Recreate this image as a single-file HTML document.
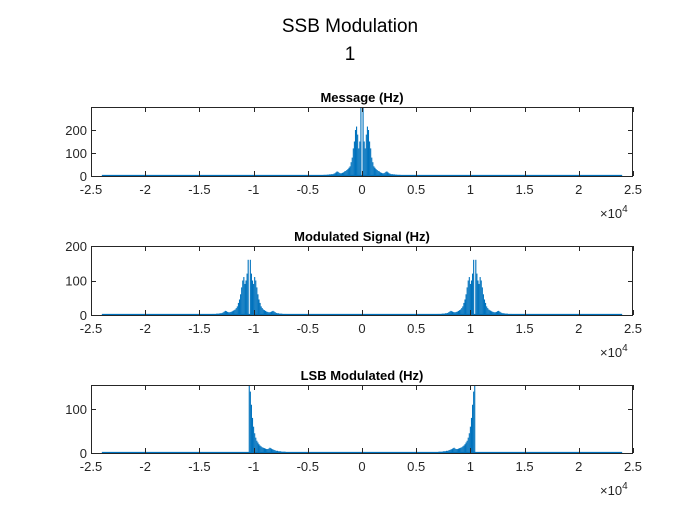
<!DOCTYPE html>
<html><head><meta charset="utf-8"><style>
body{margin:0;background:#fff;}
svg{display:block;font-family:"Liberation Sans",Arial,sans-serif;}
</style></head><body>
<svg id="fig" width="700" height="525" viewBox="0 0 700 525" xmlns="http://www.w3.org/2000/svg">
<rect width="700" height="525" fill="#fff"/>
<text x="350" y="32" font-size="19" text-anchor="middle" fill="#000">SSB Modulation</text>
<text x="350" y="60" font-size="19" text-anchor="middle" fill="#000">1</text>
</svg>
<script>
const binHz = 100;
const xTicks = [-25000,-20000,-15000,-10000,-5000,0,5000,10000,15000,20000,25000];
const xTickLabels = ["-2.5","-2","-1.5","-1","-0.5","0","0.5","1","1.5","2","2.5"];
const fMin = -24000, fMax = 24000;
const msgMag = [0,300,150,120,180,215,200,150,120,80,60,42,36,30,26,22,20,16,14,12,12,14,18,20,16,12,10,8,8,7,7,6,6,5,5,5,4,4,4,3,3,3,3,2,2,2,2,1,1,1,1,1,0,0,0];
const carrierHz = 10400;
const modMag = [0,160,120,100,90,110,100,80,60,45,35,25,20,16,14,12,10,9,8,8,9,11,12,10,8,6,5,5,4,4,4,3,3,3,3,2,2,2,2,1,1,1,1,1,0,0];
const lsbMag = [155,140,110,80,60,45,35,28,24,20,17,15,13,12,11,10,9,9,10,12,11,9,8,7,6,5,5,4,4,4,3,3,3,3,2,2,2,2,1,1,1,1,0,0];
const plots = [
 {name:"message",title:"Message (Hz)",top:107,bottom:176,yMax:300,yTicks:[0,100,200],yLabels:["0","100","200"]},
 {name:"modulated",title:"Modulated Signal (Hz)",top:246,bottom:315,yMax:200,yTicks:[0,100,200],yLabels:["0","100","200"]},
 {name:"lsb",title:"LSB Modulated (Hz)",top:385,bottom:453,yMax:155,yTicks:[0,100],yLabels:["0","100"]}
];
const L=91,R=633,NS="http://www.w3.org/2000/svg",svg=document.getElementById('fig');
function xs(f){return L+(f-xTicks[0])/(xTicks[xTicks.length-1]-xTicks[0])*(R-L);}
function mk(tag,attrs,parent){const e=document.createElementNS(NS,tag);for(const k in attrs)e.setAttribute(k,attrs[k]);(parent||svg).appendChild(e);return e;}
function seriesFor(i){
 const pts=[];
 if(i===0){msgMag.forEach((v,k)=>{pts.push([k*binHz,v]);if(k)pts.push([-k*binHz,v]);});}
 if(i===1){modMag.forEach((v,k)=>{[carrierHz,-carrierHz].forEach(c=>{pts.push([c+k*binHz,v]);if(k)pts.push([c-k*binHz,v]);});});}
 if(i===2){lsbMag.forEach((v,k)=>{pts.push([carrierHz-k*binHz,v]);pts.push([-carrierHz+k*binHz,v]);});}
 return pts;
}
plots.forEach((p,i)=>{
 const g=mk('g',{});
 
 
 const ys=v=>p.bottom-v/p.yMax*(p.bottom-p.top);
 const t=mk('text',{x:362,y:p.top-5,'font-size':13,'font-weight':'bold','text-anchor':'middle'},g);
 t.textContent=p.title;
 
 
 const d=mk('line',{x1:xs(fMin),x2:xs(fMax),y1:ys(0)-0.5,y2:ys(0)-0.5,stroke:'#0072BD','stroke-width':1.2},g);
 
 
 seriesFor(i).forEach(([f,v])=>{
  if(v<=0)return;
  const b=mk('line',{x1:xs(f),x2:xs(f),y1:ys(0),y2:Math.max(p.top,ys(v)),stroke:'#0072BD','stroke-width':1.1},g);
  
  
 });
 const box=mk('rect',{x:L+0.5,y:p.top+0.5,width:R-L-1,height:p.bottom-p.top,fill:'none',stroke:'#262626','stroke-width':1},g);
 
 
 xTicks.forEach((f,k)=>{
  const x=Math.round(xs(f))+0.5;
  mk('line',{x1:x,x2:x,y1:p.bottom,y2:p.bottom-5,stroke:'#262626'},g);
  mk('line',{x1:x,x2:x,y1:p.top,y2:p.top+5,stroke:'#262626'},g);
  const tl=mk('text',{x:xs(f),y:p.bottom+18,'font-size':13,'text-anchor':'middle',fill:'#262626'},g);
  tl.textContent=xTickLabels[k];
  
  
 });
 p.yTicks.forEach((v,k)=>{
  const y=Math.round(ys(v))+0.5;
  mk('line',{x1:L,x2:L+5,y1:y,y2:y,stroke:'#262626'},g);
  mk('line',{x1:R,x2:R-5,y1:y,y2:y,stroke:'#262626'},g);
  const yl=mk('text',{x:L-4,y:ys(v)+5,'font-size':13,'text-anchor':'end',fill:'#262626'},g);
  yl.textContent=p.yLabels[k];
  
  
 });
 const ex=mk('text',{x:600,y:p.bottom+42,'font-size':13,fill:'#262626'},g);
 ex.innerHTML='×10<tspan dy="-6" font-size="10">4</tspan>';
 
 
});
</script>
</body></html>
